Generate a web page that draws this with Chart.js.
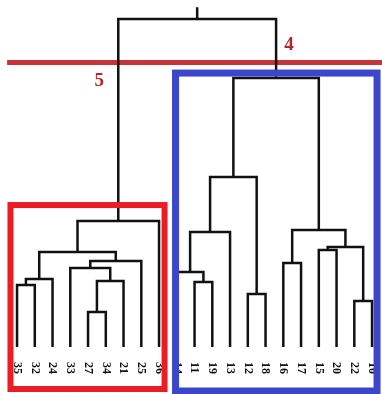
<!DOCTYPE html>
<html>
<head>
<meta charset="utf-8">
<script src="https://cdn.jsdelivr.net/npm/chart.js@4.4.1/dist/chart.umd.min.js"></script>
<style>
  html, body { margin: 0; padding: 0; background: #fff; }
  canvas { display: block; }
</style>
</head>
<body>
<canvas id="myChart" width="382" height="394"></canvas>
<script>
// leaf labels, left to right
var leafLabels = ["35", "32", "24", "33", "27", "34", "21", "25", "36",
	"14", "11", "19", "13", "12", "18", "16", "17", "15", "20", "22", "10"]

// linkage: each merge joins two ids (leaves 0..20, new nodes 21+) at a height
var mergeA = [0, 21, 4, 23, 3, 25, 22, 27, 10, 9, 30, 13, 31, 15, 17, 19, 35, 34, 33, 28]
var mergeB = [1, 2, 5, 6, 24, 7, 26, 8, 11, 29, 12, 14, 32, 16, 18, 20, 36, 37, 38, 39]
var mergeHeight = [4.73, 5.18, 2.67, 5.03, 6.02, 6.55, 7.24, 9.6,
	4.95, 5.72, 8.77, 4.04, 12.96, 6.4, 7.39, 3.51, 7.62, 8.92, 20.5, 25.0]
var rootTop = 25.9

// cut line and clusters (leaf index ranges)
var cutHeight = 21.68
var clusterFirst = [0, 9]
var clusterLast = [8, 20]
var clusterTop = [10.82, 20.88]
var clusterCount = ["5", "4"]

var nLeaves = leafLabels.length
var nodeX = []
var nodeH = []
for (var i = 0; i < nLeaves; i++) {
	nodeX.push(i)
	nodeH.push(0)
}
var datasets = []
for (var m = 0; m < mergeA.length; m++) {
	var a = mergeA[m], b = mergeB[m], h = mergeHeight[m]
	datasets.push({
		data: [
			{x: nodeX[a], y: nodeH[a]},
			{x: nodeX[a], y: h},
			{x: nodeX[b], y: h},
			{x: nodeX[b], y: nodeH[b]},
		],
	})
	nodeX.push((nodeX[a] + nodeX[b]) / 2)
	nodeH.push(h)
}
var root = nodeX.length - 1
datasets.push({data: [{x: nodeX[root], y: nodeH[root]}, {x: nodeX[root], y: rootTop}]})
datasets.forEach(function (d) {
	d.showLine = true
	d.borderColor = "#111"
	d.borderWidth = 2.5
	d.pointRadius = 0
	d.fill = false
})
datasets.push({
	data: [{x: -0.56, y: cutHeight}, {x: 20.6, y: cutHeight}],
	showLine: true,
	borderColor: "#c4343a",
	borderWidth: 5,
	pointRadius: 0,
})

var boxStyle = [
	{color: "#ec1c24", padL: 0.37, padR: 0.31, bottom: 389, width: 6},
	{color: "#3c46cc", padL: 0.07, padR: 0.28, bottom: 391, width: 7},
]

var extras = {
	id: "extras",
	afterDatasetsDraw: function (chart) {
		var c = chart.ctx, xs = chart.scales.x, ys = chart.scales.y
		// leaf labels
		c.save()
		c.fillStyle = "#111"
		c.font = "bold 12px 'Liberation Serif', serif"
		c.textBaseline = "middle"
		for (var i = 0; i < nLeaves; i++) {
			c.save()
			c.translate(xs.getPixelForValue(i), 362)
			c.rotate(Math.PI / 2)
			c.fillText(leafLabels[i], 0, 0)
			c.restore()
		}
		c.restore()
		// cluster boxes
		for (var k = 0; k < clusterFirst.length; k++) {
			var s = boxStyle[k]
			var l = xs.getPixelForValue(clusterFirst[k] - s.padL)
			var r = xs.getPixelForValue(clusterLast[k] + s.padR)
			var t = ys.getPixelForValue(clusterTop[k])
			c.save()
			c.strokeStyle = s.color
			c.lineWidth = s.width
			c.strokeRect(l, t, r - l, s.bottom - t)
			c.restore()
		}
		// cluster counts at the cut
		c.save()
		c.fillStyle = "#b3262c"
		c.font = "bold 19px 'Liberation Serif', serif"
		c.textAlign = "center"
		c.textBaseline = "middle"
		var cy = ys.getPixelForValue(cutHeight)
		c.fillText(clusterCount[0], xs.getPixelForValue(nodeX[root - 12]) - 19, cy + 19)
		c.fillText(clusterCount[1], xs.getPixelForValue(nodeX[root - 1]) + 13, cy - 17)
		c.restore()
	},
}

var ctx = document.getElementById("myChart").getContext("2d")
var myChart = new Chart(ctx, {
	type: "scatter",
	data: {datasets: datasets},
	options: {
		responsive: false,
		animation: false,
		layout: {padding: {left: 0, right: 0, top: 0, bottom: 47}},
		scales: {
			x: {type: "linear", min: -0.96, max: 20.56, display: false},
			y: {type: "linear", min: 0, max: 26.45, display: false},
		},
		plugins: {
			legend: {display: false},
			tooltip: {enabled: false},
		},
	},
	plugins: [extras],
})
</script>
</body>
</html>
